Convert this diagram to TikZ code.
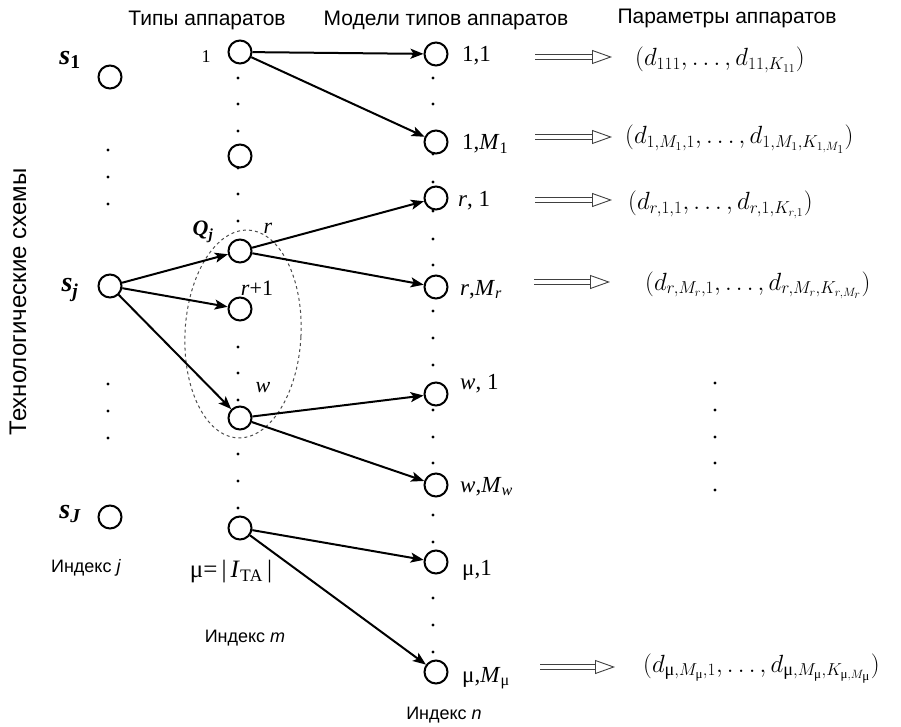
\documentclass[tikz,border=0pt]{standalone}
\usepackage{fontspec}
\usepackage{amsmath}
\setmainfont{Liberation Serif}
\setsansfont{Liberation Sans}
\usetikzlibrary{arrows.meta,positioning,shapes.geometric}
\newcommand{\mupr}{\text{μ}}
\tikzset{
  vert/.style={draw, circle, line width=2pt, minimum size=23pt, inner sep=0pt},
  link/.style={-{Stealth[length=13pt,width=10pt,inset=3pt]}, line width=2pt},
  hollow/.style={double, double distance=4.5pt, line width=0.9pt, draw=black!75,
    -{Triangle[open,length=20pt,width=14pt]}},
  head/.style={font=\sffamily\fontsize{21}{24}\selectfont, inner sep=0pt},
  idx/.style={font=\sffamily\fontsize{18}{22}\selectfont, inner sep=0pt},
  lbl/.style={font=\fontsize{23}{26}\selectfont, anchor=base west, inner sep=0pt},
  tag/.style={font=\fontsize{22}{26}\selectfont, inner sep=0pt},
  par/.style={font=\fontsize{26}{30}\selectfont, anchor=base west, inner sep=0pt},
  qset/.style={dashed, draw=black!70, line width=1pt},
  spot/.style={fill=black}
}

\begin{document}
\begin{tikzpicture}[x=1pt, y=-1pt]
  \useasboundingbox (0,0) rectangle (901,727);

  % headers
  \node[head] (hm) at (207,20) {Типы аппаратов};
  \node[head] (hn) at (446,20) {Модели типов аппаратов};
  \node[head] (hp) at (727,18) {Параметры аппаратов};
  \node[head, font=\sffamily\fontsize{24}{26}\selectfont, rotate=90] (hs) at (18,302) {Технологические схемы};

  % schemes
  \node[vert] (s1) at (110,77) {};
  \node[vert] (sj) at (110,286) {};
  \node[vert] (sJ) at (110,517) {};
  \node[tag, font=\fontsize{28}{30}\selectfont] (ls1) at (70,60) {{\bfseries\itshape s}\textsubscript{\bfseries 1}};
  \node[tag, font=\fontsize{28}{30}\selectfont] (lsj) at (70,290) {{\bfseries\itshape s}\textsubscript{\bfseries\itshape j}};
  \node[tag, font=\fontsize{28}{30}\selectfont] (lsJ) at (70,514) {{\bfseries\itshape s}\textsubscript{\bfseries\itshape J}};
  \foreach \y in {150,177,204,384,411,438}
    \fill[spot] (108,\y) circle (1.7);

  % apparatus types
  \node[vert] (m1) at (240,52) {};
  \node[vert] (m2) at (240,156) {};
  \node[vert] (mr) at (240,251) {};
  \node[vert] (mr1) at (240,309) {};
  \node[vert] (mw) at (240,418) {};
  \node[vert] (mmu) at (240,528) {};
  \node[tag, font=\fontsize{18}{20}\selectfont] (lm1) at (206,57) {1};
  \node[tag] (lq) at (203,232) {{\bfseries\itshape Q}\textsubscript{\bfseries\itshape j}};
  \node[tag] (lmr) at (268,228) {\textit{r}};
  \node[tag] (lmr1) at (257,288) {\textit{r}+1};
  \node[tag] (lmw) at (263,388) {\textit{w}};
  \node[tag, font=\fontsize{25}{28}\selectfont] (lmu) at (231,572) {μ=\,|\,\textit{I}\textsubscript{ТА}\,|};
  \foreach \y in {78,104,131,168,194,221,347,373,400,454,481,508}
    \fill[spot] (238,\y) circle (1.7);
  \draw[qset, rotate around={-3:(243,334)}] (243,334) ellipse [x radius=58, y radius=104];

  % models
  \node[vert] (n11) at (436,54) {};
  \node[vert] (n1M) at (436,142) {};
  \node[vert] (nr1) at (436,198) {};
  \node[vert] (nrM) at (436,287) {};
  \node[vert] (nw1) at (436,394) {};
  \node[vert] (nwM) at (436,485) {};
  \node[vert] (nmu1) at (436,562) {};
  \node[vert] (nmuM) at (436,672) {};
  \node[lbl] (l11) at (462,62) {1,1};
  \node[lbl] (l1M) at (462,150) {1,\textit{M}\textsubscript{1}};
  \node[lbl] (lr1) at (458,207) {\textit{r}, 1};
  \node[lbl] (lrM) at (460,295) {\textit{r},\textit{M}\textsubscript{\textit{r}}};
  \node[lbl] (lw1) at (460,389) {\textit{w}, 1};
  \node[lbl] (lwM) at (460,492) {\textit{w},\textit{M}\textsubscript{\textit{w}}};
  \node[lbl] (lmu1) at (462,575) {μ,1};
  \node[lbl] (lmuM) at (462,682) {μ,\textit{M}\textsubscript{μ}};
  \foreach \y in {78,104,154,182,211,239,265,311,338,365,410,437,463,515,542,598,625,652}
    \fill[spot] (433,\y) circle (1.7);

  % parameters
  \node[par] (p11) at (635,66) {$(d_{111},\ldots,d_{11,K_{11}})$};
  \node[par] (p1M) at (625,144) {$(d_{1,M_1,1},\ldots,d_{1,M_1,K_{1,M_1}})$};
  \node[par] (pr1) at (628,210) {$(d_{r,1,1},\ldots,d_{r,1,K_{r,1}})$};
  \node[par] (prM) at (645,290) {$(d_{r,M_r,1},\ldots,d_{r,M_r,K_{r,M_r}})$};
  \node[par] (pmu) at (643,672) {$(d_{\mupr,M_{\mupr},1},\ldots,d_{\mupr,M_{\mupr},K_{\mupr,M_{\mupr}}})$};
  \foreach \y in {383,410,437,463,490}
    \fill[spot] (715,\y) circle (1.7);

  % index captions
  \node[idx] (ij) at (86,568) {Индекс \textit{j}};
  \node[idx] (im) at (245,638) {Индекс \textit{m}};
  \node[idx] (in) at (444,715) {Индекс \textit{n}};

  % links
  \draw[link] (sj) -- (mr);
  \draw[link] (sj) -- (mr1);
  \draw[link] (sj) -- (mw);
  \draw[link] (m1) -- (n11);
  \draw[link] (m1) -- (n1M);
  \draw[link] (mr) -- (nr1);
  \draw[link] (mr) -- (nrM);
  \draw[link] (mw) -- (nw1);
  \draw[link] (mw) -- (nwM);
  \draw[link] (mmu) -- (nmu1);
  \draw[link] (mmu) -- (nmuM);

  % hollow arrows to parameters
  \coordinate (a1) at (535,57);  \coordinate (b1) at (612,57);
  \coordinate (a2) at (535,137); \coordinate (b2) at (612,137);
  \coordinate (a3) at (535,200); \coordinate (b3) at (612,200);
  \coordinate (a4) at (534,282); \coordinate (b4) at (610,282);
  \coordinate (a5) at (540,667); \coordinate (b5) at (615,667);
  \foreach \i in {1,...,5}
    \draw[hollow] (a\i) -- (b\i);
\end{tikzpicture}
\end{document}
